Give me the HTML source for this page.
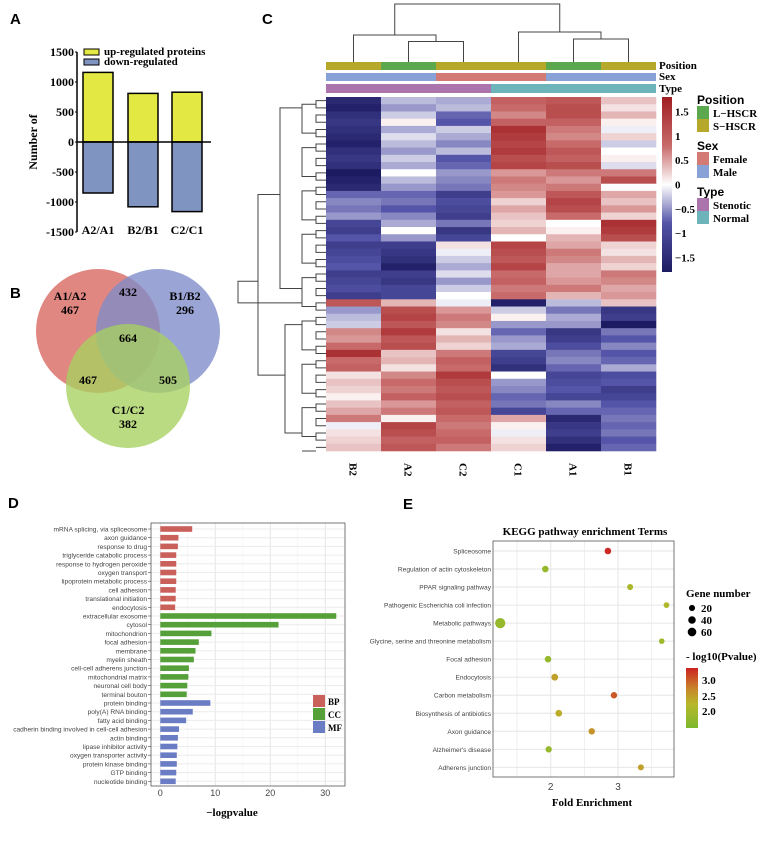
<!DOCTYPE html>
<html><head><meta charset="utf-8"><style>
body{margin:0;background:#fff;width:769px;height:848px;overflow:hidden}
svg{display:block}
.ser{font-family:"Liberation Serif",serif;font-weight:bold}
.san{font-family:"Liberation Sans",sans-serif}
</style></head><body>
<svg id="fig" width="769" height="848" viewBox="0 0 769 848" xmlns="http://www.w3.org/2000/svg">
<g id="pA"></g>
<g id="pB" transform="translate(0,-4)"></g>
<g id="pC"></g>
<g id="pD"></g>
<g id="pE"></g>
</svg>
<script>
// ---- Panel A data
const aCats=["A2/A1","B2/B1","C2/C1"];
const aUp=[1160,810,830];
const aDown=[-850,-1080,-1160];
const aTicks=[1500,1000,500,0,-500,-1000,-1500];
// ---- Panel B data
const vennLabels=["467","432","296","664","467","505","382"];
// ---- Panel C data (columns B2,A2,C2,C1,A1,B1)
const hmCols=["B2","A2","C2","C1","A1","B1"];
const hmRows=[
[-1.6,-0.4,-0.5,1.1,1.2,0.4],[-1.7,-0.6,-0.4,1.0,1.3,0.2],[-1.5,-0.3,-0.9,0.8,1.3,0.5],[-1.4,0.1,-1.0,1.1,1.1,0.1],
[-1.5,-0.5,-0.3,1.6,0.9,-0.1],[-1.6,-0.2,-0.5,1.5,0.8,0.3],[-1.7,-0.4,-0.7,1.4,1.0,-0.3],[-1.5,-0.6,-0.4,1.5,1.2,0.0],
[-1.4,-0.3,-1.0,1.3,1.1,0.1],[-1.5,-0.5,-0.9,1.4,1.3,-0.2],[-1.8,0.0,-0.6,0.7,0.9,0.9],[-1.7,-0.4,-0.7,0.9,0.7,1.3],
[-1.6,-0.6,-0.8,0.8,0.9,0.0],[-0.9,-0.9,-1.3,0.7,1.2,0.6],[-0.7,-0.8,-1.1,0.3,1.4,0.4],[-0.8,-1.0,-1.2,0.6,1.3,0.7],
[-0.6,-0.7,-1.3,0.4,1.0,0.3],[-1.2,-0.5,-0.8,0.3,0.0,1.6],[-1.3,0.0,-1.4,0.5,0.1,1.5],[-1.0,-0.6,-1.2,0.0,0.5,1.3],
[-1.3,-1.3,0.2,1.4,0.6,0.3],[-1.2,-1.4,-0.1,1.3,0.9,0.2],[-1.1,-1.5,-0.3,1.2,0.8,0.5],[-1.0,-1.7,-0.5,1.4,0.6,0.3],
[-1.3,-1.3,-0.2,1.0,0.6,0.9],[-1.2,-1.4,-0.6,1.1,0.7,0.8],[-1.1,-1.2,-0.3,0.9,0.9,0.6],[-1.3,-1.2,0.0,1.0,0.5,0.7],
[1.2,0.5,-0.1,-1.7,-0.4,0.4],[-0.6,1.3,0.7,-0.3,-0.8,-1.4],[-0.4,1.4,0.9,0.1,-0.5,-1.3],[-0.3,1.2,0.8,-0.6,-0.6,-1.8],
[0.8,1.5,0.2,-0.9,-1.4,-0.8],[0.7,1.2,0.5,-0.6,-1.3,-1.0],[1.0,1.3,0.3,-0.5,-1.1,-0.7],[1.6,0.4,0.9,-1.2,-0.8,-1.0],
[1.0,0.5,1.1,-1.3,-0.7,-0.9],[1.1,0.2,1.0,-1.5,-0.9,-0.5],[0.2,0.8,1.5,0.0,-1.2,-1.1],[0.4,1.0,1.3,-0.6,-1.1,-1.0],
[0.3,0.9,1.2,-0.7,-1.0,-1.3],[0.1,1.1,1.3,-0.9,-1.2,-1.2],[0.4,0.7,1.1,-0.8,-0.7,-1.0],[0.6,0.9,1.2,-1.2,-0.9,-0.9],
[0.9,0.1,1.0,0.6,-1.6,-0.8],[-0.1,1.4,0.9,0.1,-1.4,-0.9],[0.2,1.3,1.0,-0.1,-1.3,-0.8],[0.3,1.1,1.1,0.2,-1.5,-1.0],[0.4,1.2,0.9,0.3,-1.7,-0.9]
];
const hmPosition=["S","L","S","S","L","S"];
const hmSex=["M","M","F","F","M","M"];
const hmType=["St","St","St","N","N","N"];
const cbTicks=[1.5,1,0.5,0,-0.5,-1,-1.5];
// ---- Panel D data
const goTerms=["mRNA splicing, via spliceosome","axon guidance","response to drug","triglyceride catabolic process","response to hydrogen peroxide","oxygen transport","lipoprotein metabolic process","cell adhesion","translational initiation","endocytosis","extracellular exosome","cytosol","mitochondrion","focal adhesion","membrane","myelin sheath","cell-cell adherens junction","mitochondrial matrix","neuronal cell body","terminal bouton","protein binding","poly(A) RNA binding","fatty acid binding","cadherin binding involved in cell-cell adhesion","actin binding","lipase inhibitor activity","oxygen transporter activity","protein kinase binding","GTP binding","nucleotide binding"];
const goValues=[5.8,3.3,3.2,2.9,2.9,2.9,2.9,2.8,2.8,2.7,32,21.5,9.3,7.0,6.4,6.1,5.2,5.1,4.9,4.8,9.1,5.9,4.7,3.4,3.2,3.1,3.0,3.0,2.9,2.8];
const goCats=["BP","BP","BP","BP","BP","BP","BP","BP","BP","BP","CC","CC","CC","CC","CC","CC","CC","CC","CC","CC","MF","MF","MF","MF","MF","MF","MF","MF","MF","MF"];
const goTicks=[0,10,20,30];
// ---- Panel E data
const keggTerms=["Spliceosome","Regulation of actin cytoskeleton","PPAR signaling pathway","Pathogenic Escherichia coli infection","Metabolic pathways","Glycine, serine and threonine metabolism","Focal adhesion","Endocytosis","Carbon metabolism","Biosynthesis of antibiotics","Axon guidance","Alzheimer's disease","Adherens junction"];
const keggFE=[2.85,1.92,3.18,3.72,1.25,3.65,1.96,2.06,2.94,2.12,2.61,1.97,3.34];
const keggGenes=[14,14,10,8,62,7,14,16,13,15,13,12,10];
const keggP=[3.3,1.9,2.15,2.2,1.9,2.0,1.9,2.5,3.0,2.4,2.6,1.9,2.5];
const keggTicks=[2,3];

const NS="http://www.w3.org/2000/svg";
function el(parent,tag,attrs,text){const e=document.createElementNS(NS,tag);for(const k in attrs)e.setAttribute(k,attrs[k]);if(text!==undefined)e.textContent=text;parent.appendChild(e);return e;}

// ===== Panel A
(function(){
const g=document.getElementById('pA');
const t=el(g,'text',{x:10,y:24,'class':'san','font-size':15,'font-weight':'bold'},'A');


const y0=142, k=0.06, ax=77;
const ya=v=>y0-v*k;
const xs=[83,128,172], bw=30;
aTicks.forEach(v=>{
 const l=el(g,'text',{x:ax-3,y:ya(v)+4,'text-anchor':'end','class':'ser','font-size':12},String(v));
 
 
 el(g,'line',{x1:ax-2,x2:ax,y1:ya(v),y2:ya(v),stroke:'#000','stroke-width':1});
});
aCats.forEach((c,i)=>{
 const u=el(g,'rect',{x:xs[i],y:ya(aUp[i]),width:bw,height:aUp[i]*k,fill:'#e4e843',stroke:'#000','stroke-width':1.5});
 
 
 const d=el(g,'rect',{x:xs[i],y:y0,width:bw,height:-aDown[i]*k,fill:'#7f94c0',stroke:'#000','stroke-width':1.5});
 
 
 const l=el(g,'text',{x:xs[i]+bw/2,y:234,'text-anchor':'middle','class':'ser','font-size':12},c);
 
 
});
el(g,'line',{x1:ax,x2:ax,y1:ya(1500),y2:ya(-1500),stroke:'#000','stroke-width':1.5});
el(g,'line',{x1:ax,x2:211,y1:y0,y2:y0,stroke:'#000','stroke-width':1.5});
const yt=el(g,'text',{x:0,y:0,transform:'translate(37,142) rotate(-90)','text-anchor':'middle','class':'ser','font-size':12},'Number of');


[['#e4e843','up-regulated proteins',49],['#7f94c0','down-regulated',59]].forEach(([c,s,y])=>{
 el(g,'rect',{x:84,y:y,width:15,height:6,fill:c,stroke:'#000','stroke-width':1});
 const l=el(g,'text',{x:104,y:y+6,'class':'ser','font-size':11},s);
 
 
});
})();

// ===== Panel B
(function(){
const g=document.getElementById('pB');
const t=el(g,'text',{x:10,y:302,'class':'san','font-size':15,'font-weight':'bold'},'B');


[['#d9655f',98,335,'circle-a'],['#7d8cc9',158,335,'circle-b'],['#a8d160',128,390,'circle-c']].forEach(([c,x,y,n])=>{
 const ci=el(g,'circle',{cx:x,cy:y,r:62,fill:c,'fill-opacity':0.78});
 
 
});
const pos=[[70,304,'A1/A2'],[185,304,'B1/B2'],[128,418,'C1/C2']];
pos.forEach(p=>{const l=el(g,'text',{x:p[0],y:p[1],'text-anchor':'middle','class':'ser','font-size':12},p[2]);
 
 });
const np=[[70,318],[128,300],[185,318],[128,346],[88,388],[168,388],[128,432]];
vennLabels.forEach((v,i)=>{const l=el(g,'text',{x:np[i][0],y:np[i][1],'text-anchor':'middle','class':'ser','font-size':12},v);
 
 });
})();

// ===== Panel C
(function(){
const g=document.getElementById('pC');
const t=el(g,'text',{x:262,y:24,'class':'san','font-size':15,'font-weight':'bold'},'C');


const x0=326,cw=55,y0=97,y1=451;
const rh=(y1-y0)/hmRows.length;
const stops=[[-1.8,[28,26,96]],[-1,[84,84,168]],[0,[255,255,255]],[1,[200,106,106]],[1.8,[160,30,34]]];
function col(v){v=Math.max(-1.8,Math.min(1.8,v));for(let i=0;i<stops.length-1;i++){const a=stops[i],b=stops[i+1];if(v<=b[0]){const f=(v-a[0])/(b[0]-a[0]);return 'rgb('+a[1].map((c,j)=>Math.round(c+(b[1][j]-c)*f)).join(',')+')';}}return 'rgb(160,30,34)';}
hmRows.forEach((r,i)=>r.forEach((v,j)=>{
 const c=el(g,'rect',{x:x0+j*cw,y:y0+i*rh,width:cw+0.3,height:rh+0.3,fill:col(v)});
 
 
}));
const posC={S:'#b5a82a',L:'#5ba84f'},sexC={M:'#88a2d8',F:'#d47a74'},typC={St:'#ac74ac',N:'#6cb4ba'};
hmCols.forEach((c,j)=>{
 el(g,'rect',{x:x0+j*cw,y:62,width:cw,height:8,fill:posC[hmPosition[j]]});
 el(g,'rect',{x:x0+j*cw,y:73,width:cw,height:8,fill:sexC[hmSex[j]]});
 el(g,'rect',{x:x0+j*cw,y:84,width:cw,height:9,fill:typC[hmType[j]]});
 const l=el(g,'text',{x:0,y:0,transform:`translate(${x0+j*cw+cw/2-4},463) rotate(90)`,'class':'ser','font-size':11,'font-weight':'normal'},c);
 
 
});
[['Position',69],['Sex',80],['Type',92]].forEach(([s,y])=>{const l=el(g,'text',{x:659,y:y,'class':'ser','font-size':11},s);
 
 });
const cx=j=>x0+j*cw+cw/2;
const td=`M${cx(0)},62V35H${(cx(1)+cx(2))/2}V41.5 M${cx(1)},62V41.5H${cx(2)}V62 M${cx(3)},62V32H${(cx(4)+cx(5))/2}V39 M${cx(4)},62V39H${cx(5)}V62 M${(cx(0)+(cx(1)+cx(2))/2)/2},35V4H${(cx(3)+(cx(4)+cx(5))/2)/2}V32`;
el(g,'path',{d:td,fill:'none',stroke:'#444','stroke-width':1});
let d='';
const ry=i=>y0+i*rh+rh/2;
for(let i=0;i<hmRows.length;i+=2){const a=ry(i),b=ry(Math.min(i+1,hmRows.length-1));d+=`M326,${a}H316V${b}H326 `;}
for(let i=0;i<hmRows.length;i+=6){const a=ry(i)+rh/2,b=ry(Math.min(i+4,hmRows.length-1))+rh/2;d+=`M316,${a}H302V${b}H316 `;}
d+=`M302,${ry(1)}H280V${ry(26)}H302 M302,${ry(31)}H285V${ry(46)}H302 M280,${ry(13)}H258V${ry(38)}H285 M258,${ry(25)}H238V${ry(28)}H302`;
el(g,'path',{d:d,fill:'none',stroke:'#444','stroke-width':1});
const defs=el(g,'defs',{});
const lg=el(defs,'linearGradient',{id:'hmg',x1:0,y1:0,x2:0,y2:1});
[[0,'rgb(160,30,34)'],[0.28,'rgb(200,106,106)'],[0.5,'#fff'],[0.72,'rgb(84,84,168)'],[1,'rgb(28,26,96)']].forEach(s=>el(lg,'stop',{offset:s[0],'stop-color':s[1]}));
const cbTop=97,cbBot=272,cbv=v=>cbTop+(1.8-v)/3.6*(cbBot-cbTop);
el(g,'rect',{x:662,y:cbTop,width:10,height:cbBot-cbTop,fill:'url(#hmg)'});
cbTicks.forEach(v=>{const l=el(g,'text',{x:675,y:cbv(v)+4,'class':'ser','font-size':11,'font-weight':'normal'},v<0?'\u2212'+Math.abs(v):String(v));
 
 });
const leg=[['Position',104,null],['L\u2212HSCR',117,'#5ba84f'],['S\u2212HSCR',130,'#b5a82a'],['Sex',150,null],['Female',163,'#d47a74'],['Male',176,'#88a2d8'],['Type',196,null],['Stenotic',209,'#ac74ac'],['Normal',222,'#6cb4ba']];
leg.forEach(([s,y,c])=>{
 if(c){el(g,'rect',{x:697,y:y-11,width:12,height:13,fill:c});}
 const l=el(g,'text',{x:c?713:697,y:y,'class':c?'ser':'san','font-size':c?11:12,'font-weight':c?'normal':'bold'},s);
 
 
});
})();

// ===== Panel D
(function(){
const g=document.getElementById('pD');
const t=el(g,'text',{x:8,y:508,'class':'san','font-size':15,'font-weight':'bold'},'D');


const px0=151,px1=345,py0=523,py1=786;
const xs=v=>160.3+v*5.5;
const ys=i=>529+i*8.7;
el(g,'rect',{x:px0,y:py0,width:px1-px0,height:py1-py0,fill:'#fff'});
[5,15,25].forEach(v=>el(g,'line',{x1:xs(v),x2:xs(v),y1:py0,y2:py1,stroke:'#f0f0f0','stroke-width':0.6}));
goTicks.forEach(v=>el(g,'line',{x1:xs(v),x2:xs(v),y1:py0,y2:py1,stroke:'#e6e6e6','stroke-width':1}));
const cc={BP:'#c9605a',CC:'#56a03a',MF:'#6a7cc4'};
goTerms.forEach((s,i)=>{
 el(g,'line',{x1:px0,x2:px1,y1:ys(i),y2:ys(i),stroke:'#ececec','stroke-width':1});
 const b=el(g,'rect',{x:xs(0),y:ys(i)-2.8,width:goValues[i]*5.5,height:5.6,fill:cc[goCats[i]]});
 
 
 const l=el(g,'text',{x:147,y:ys(i)+2.5,'text-anchor':'end','class':'san','font-size':6.6,fill:'#444'},s);
 
 
 el(g,'line',{x1:148,x2:151,y1:ys(i),y2:ys(i),stroke:'#444','stroke-width':0.6});
});
el(g,'rect',{x:px0,y:py0,width:px1-px0,height:py1-py0,fill:'none',stroke:'#555','stroke-width':0.8});
goTicks.forEach(v=>{const l=el(g,'text',{x:xs(v),y:796,'text-anchor':'middle','class':'san','font-size':9,fill:'#444'},String(v));
 
 });
const xt=el(g,'text',{x:232,y:816,'text-anchor':'middle','class':'ser','font-size':11},'\u2212logpvalue');


['BP','CC','MF'].forEach((c,i)=>{
 el(g,'rect',{x:313,y:695+i*13,width:12,height:12,fill:cc[c]});
 const l=el(g,'text',{x:328,y:705+i*13,'class':'ser','font-size':9},c);
 
 
});
})();

// ===== Panel E
(function(){
const g=document.getElementById('pE');
const t=el(g,'text',{x:403,y:509,'class':'san','font-size':15,'font-weight':'bold'},'E');


const px0=493,px1=674,py0=541,py1=777;
const xs=v=>550.7+(v-2)*67.3;
const ys=i=>551+i*18.03;
const rs=n=>1.6+Math.sqrt(n)*0.45;
function pc(p){const st=[[1.6,[124,184,47]],[2.3,[184,184,42]],[2.7,[200,134,42]],[3.35,[204,34,34]]];p=Math.max(1.6,Math.min(3.35,p));for(let i=0;i<st.length-1;i++){const a=st[i],b=st[i+1];if(p<=b[0]){const f=(p-a[0])/(b[0]-a[0]);return 'rgb('+a[1].map((c,j)=>Math.round(c+(b[1][j]-c)*f)).join(',')+')';}}}
const ti=el(g,'text',{x:585,y:535,'text-anchor':'middle','class':'ser','font-size':11},'KEGG pathway enrichment Terms');


el(g,'rect',{x:px0,y:py0,width:px1-px0,height:py1-py0,fill:'#fff'});
[1.5,2,2.5,3,3.5].forEach(v=>el(g,'line',{x1:xs(v),x2:xs(v),y1:py0,y2:py1,stroke:'#e6e6e6','stroke-width':v%1?0.6:1}));
keggTerms.forEach((s,i)=>{
 el(g,'line',{x1:px0,x2:px1,y1:ys(i),y2:ys(i),stroke:'#e6e6e6','stroke-width':1});
 const l=el(g,'text',{x:491,y:ys(i)+2.5,'text-anchor':'end','class':'san','font-size':6.6,fill:'#444'},s);
 
 
});
keggTerms.forEach((s,i)=>{
 const c=el(g,'circle',{cx:xs(keggFE[i]),cy:ys(i),r:rs(keggGenes[i]),fill:pc(keggP[i])});
 
 
});
el(g,'rect',{x:px0,y:py0,width:px1-px0,height:py1-py0,fill:'none',stroke:'#555','stroke-width':0.8});
keggTicks.forEach(v=>{const l=el(g,'text',{x:xs(v),y:790,'text-anchor':'middle','class':'san','font-size':10,fill:'#444'},String(v));
 
 });
const xt=el(g,'text',{x:592,y:806,'text-anchor':'middle','class':'ser','font-size':11},'Fold Enrichment');


const gl=el(g,'text',{x:686,y:597,'class':'ser','font-size':11},'Gene number');


[20,40,60].forEach((n,i)=>{
 el(g,'circle',{cx:692,cy:608+i*12,r:rs(n)*0.85,fill:'#000'});
 const l=el(g,'text',{x:701,y:612+i*12,'class':'ser','font-size':11},String(n));
 
 
});
const pl=el(g,'text',{x:686,y:660,'class':'ser','font-size':11},'- log10(Pvalue)');


const defs=el(g,'defs',{});
const lg=el(defs,'linearGradient',{id:'eg',x1:0,y1:0,x2:0,y2:1});
[[0,'rgb(204,34,34)'],[0.35,'rgb(200,134,42)'],[0.6,'rgb(184,184,42)'],[1,'rgb(124,184,47)']].forEach(s=>el(lg,'stop',{offset:s[0],'stop-color':s[1]}));
el(g,'rect',{x:686,y:668,width:12,height:60,fill:'url(#eg)'});
[['3.0',684],['2.5',700],['2.0',715]].forEach(([s,y])=>{const l=el(g,'text',{x:702,y:y,'class':'ser','font-size':11},s);
 
 });
})();
</script>
</body></html>
